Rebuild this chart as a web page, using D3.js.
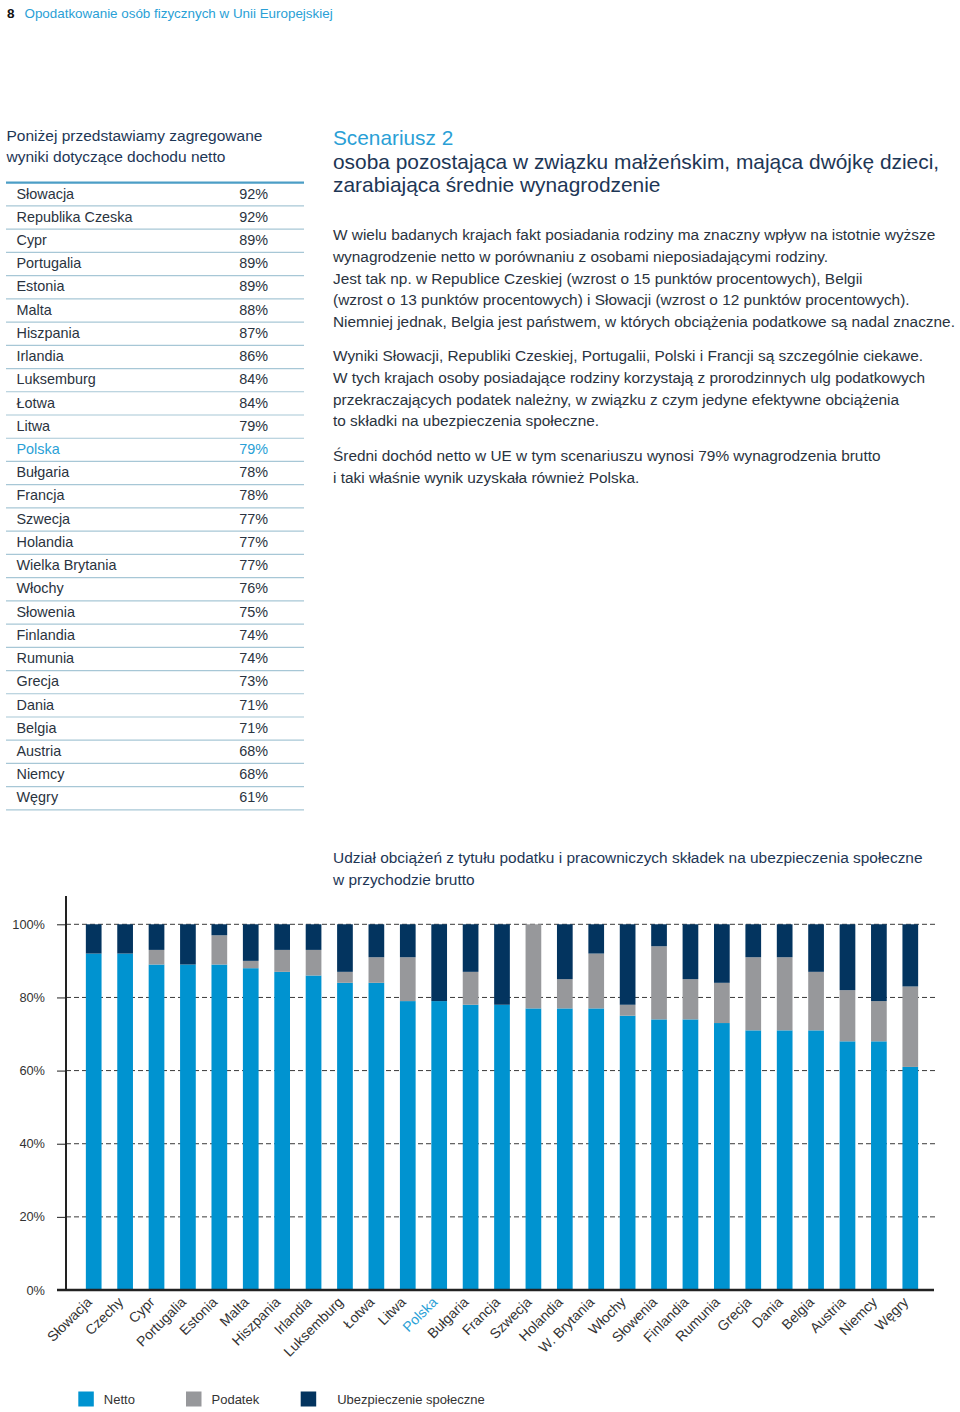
<!DOCTYPE html>
<html><head><meta charset="utf-8">
<script src="https://cdn.jsdelivr.net/npm/d3@7"></script>
<style>
body{margin:0;background:#fff}
svg{display:block;font-family:"Liberation Sans",Arial,Helvetica,sans-serif}
</style>
</head><body><div id="chart"></div>
<script>
// ---------- DATA ----------
const tableCountries = ["Słowacja","Republika Czeska","Cypr","Portugalia","Estonia","Malta","Hiszpania","Irlandia","Luksemburg","Łotwa","Litwa","Polska","Bułgaria","Francja","Szwecja","Holandia","Wielka Brytania","Włochy","Słowenia","Finlandia","Rumunia","Grecja","Dania","Belgia","Austria","Niemcy","Węgry"];
const tableValues = [92,92,89,89,89,88,87,86,84,84,79,79,78,78,77,77,77,76,75,74,74,73,71,71,68,68,61];

const chartCountries = ["Słowacja","Czechy","Cypr","Portugalia","Estonia","Malta","Hiszpania","Irlandia","Luksemburg","Łotwa","Litwa","Polska","Bułgaria","Francja","Szwecja","Holandia","W. Brytania","Włochy","Słowenia","Finlandia","Rumunia","Grecja","Dania","Belgia","Austria","Niemcy","Węgry"];
const netValues    = [92,92,89,89,89,88,87,86,84,84,79,79,78,78,77,77,77,75,74,74,73,71,71,71,68,68,61];
const taxValues    = [0,0,4,0,8,2,6,7,3,7,12,0,9,0,23,8,15,3,20,11,11,20,20,16,14,11,22];
const socialValues = [8,8,7,11,3,10,7,7,13,9,9,21,13,22,0,15,8,22,6,15,16,9,9,13,18,21,17];
const seriesNames  = ["Netto","Podatek","Ubezpieczenie społeczne"];
const yTicks = [0,20,40,60,80,100];
const highlight = "Polska";

const headerNumber = "8";
const headerTitle = "Opodatkowanie osób fizycznych w Unii Europejskiej";
const introLines = ["Poniżej przedstawiamy zagregowane","wyniki dotyczące dochodu netto"];
const scenarioTitle = "Scenariusz 2";
const scenarioSub = ["osoba pozostająca w związku małżeńskim, mająca dwójkę dzieci,","zarabiająca średnie wynagrodzenie"];
const paragraphs = [
 ["W wielu badanych krajach fakt posiadania rodziny ma znaczny wpływ na istotnie wyższe",
  "wynagrodzenie netto w porównaniu z osobami nieposiadającymi rodziny.",
  "Jest tak np. w Republice Czeskiej (wzrost o 15 punktów procentowych), Belgii",
  "(wzrost o 13 punktów procentowych) i Słowacji (wzrost o 12 punktów procentowych).",
  "Niemniej jednak, Belgia jest państwem, w których obciążenia podatkowe są nadal znaczne."],
 ["Wyniki Słowacji, Republiki Czeskiej, Portugalii, Polski i Francji są szczególnie ciekawe.",
  "W tych krajach osoby posiadające rodziny korzystają z prorodzinnych ulg podatkowych",
  "przekraczających podatek należny, w związku z czym jedyne efektywne obciążenia",
  "to składki na ubezpieczenia społeczne."],
 ["Średni dochód netto w UE w tym scenariuszu wynosi 79% wynagrodzenia brutto",
  "i taki właśnie wynik uzyskała również Polska."]
];
const chartTitle = ["Udział obciążeń z tytułu podatku i pracowniczych składek na ubezpieczenia społeczne","w przychodzie brutto"];

// ---------- STYLE ----------
const W = 960, H = 1412;
const C_BLUE = "#0093d0", C_GREY = "#97989b", C_NAVY = "#03345f";
const C_CYAN = "#2a9fd6", C_TEXT = "#2a3340", C_DARKBLUE = "#1d3655";
const colors = [C_BLUE, C_GREY, C_NAVY];

const svg = d3.select("#chart").append("svg").attr("width", W).attr("height", H);

// header
svg.append("text").attr("x", 7).attr("y", 17.5).attr("font-size", 13.5).attr("font-weight", "bold").attr("fill", "#111").text(headerNumber);
svg.append("text").attr("x", 24.5).attr("y", 17.5).attr("font-size", 13.4).attr("fill", C_CYAN).text(headerTitle);

// intro
svg.selectAll(".intro").data(introLines).join("text")
  .attr("x", 6.5).attr("y", (d, i) => 140.7 + i * 21.7)
  .attr("font-size", 15.5).attr("fill", C_DARKBLUE).text(d => d);

// table
const tTop = 182.7, rowH = 23.23, tX0 = 6, tX1 = 304;
const rowY = d3.scaleLinear().domain([0, tableCountries.length]).range([tTop, tTop + rowH * tableCountries.length]);
const table = svg.append("g");
table.selectAll(".rl").data(d3.range(1, tableCountries.length + 1)).join("line")
  .attr("x1", tX0).attr("x2", tX1).attr("y1", d => rowY(d)).attr("y2", d => rowY(d))
  .attr("stroke", "#a7c7d6").attr("stroke-width", 1.2);
table.append("line").attr("x1", tX0).attr("x2", tX1).attr("y1", rowY(0)).attr("y2", rowY(0))
  .attr("stroke", "#4c9ec6").attr("stroke-width", 2.2);
table.selectAll(".tn").data(tableCountries).join("text")
  .attr("x", 16.5).attr("y", (d, i) => rowY(i) + 15.8)
  .attr("font-size", 14.4).attr("fill", d => d === highlight ? C_CYAN : C_TEXT).text(d => d);
table.selectAll(".tv").data(tableValues).join("text")
  .attr("x", 268).attr("y", (d, i) => rowY(i) + 15.8).attr("text-anchor", "end")
  .attr("font-size", 14.4).attr("fill", (d, i) => tableCountries[i] === highlight ? C_CYAN : C_TEXT).text(d => d + "%");

// right column
svg.append("text").attr("x", 333).attr("y", 145).attr("font-size", 20.8).attr("fill", C_CYAN).text(scenarioTitle);
svg.selectAll(".sub").data(scenarioSub).join("text")
  .attr("x", 333).attr("y", (d, i) => 168.5 + i * 23.5).attr("font-size", 20.9).attr("fill", C_DARKBLUE).text(d => d);

const paraStarts = [240, 361, 461];
paragraphs.forEach((lines, pi) => {
  svg.append("g").selectAll("text").data(lines).join("text")
    .attr("x", 333).attr("y", (d, i) => paraStarts[pi] + i * 21.75)
    .attr("font-size", 15.4).attr("fill", C_TEXT).text(d => d);
});

svg.selectAll(".ct").data(chartTitle).join("text")
  .attr("x", 333).attr("y", (d, i) => 863 + i * 21.75)
  .attr("font-size", 15.45).attr("fill", C_DARKBLUE).text(d => d);

// ---------- CHART ----------
const axisX = 66, axisRight = 934;
const y = d3.scaleLinear().domain([0, 100]).range([1290, 924.3]);
const x = d3.scaleBand().domain(chartCountries).range([78, 926]).paddingInner(0.5).paddingOuter(0.25);

// gridlines
const grid = svg.append("g");
grid.selectAll("line").data(yTicks.filter(d => d > 0)).join("line")
  .attr("x1", axisX).attr("x2", axisRight + 2).attr("y1", d => y(d)).attr("y2", d => y(d))
  .attr("stroke", "#3a3a3a").attr("stroke-width", 1).attr("stroke-dasharray", "5,3");

// stacked bars
const rows = chartCountries.map((c, i) => ({ c, Netto: netValues[i], Podatek: taxValues[i], "Ubezpieczenie społeczne": socialValues[i] }));
const stacked = d3.stack().keys(seriesNames)(rows);
svg.append("g").selectAll("g").data(stacked).join("g")
  .attr("fill", (d, i) => colors[i])
  .selectAll("rect").data(d => d).join("rect")
  .attr("x", d => x(d.data.c)).attr("width", x.bandwidth())
  .attr("y", d => y(d[1])).attr("height", d => y(d[0]) - y(d[1]));

// y axis
const yAxis = svg.append("g").attr("transform", `translate(${axisX},0)`)
  .call(d3.axisLeft(y).tickValues(yTicks).tickFormat(d => d + "%").tickSize(9).tickPadding(12));
yAxis.select(".domain").remove();
yAxis.selectAll(".tick line").attr("stroke", "#222").attr("stroke-width", 1);
yAxis.selectAll(".tick text").attr("font-size", 12.8).attr("fill", "#333").attr("font-family", "Liberation Sans, Arial, sans-serif");
svg.append("line").attr("x1", axisX).attr("x2", axisX).attr("y1", 896).attr("y2", 1291)
  .attr("stroke", "#222").attr("stroke-width", 2);
svg.append("line").attr("x1", 57).attr("x2", axisRight).attr("y1", y(0)).attr("y2", y(0))
  .attr("stroke", "#222").attr("stroke-width", 2.4);

// x labels
svg.append("g").selectAll("text").data(chartCountries).join("text")
  .attr("transform", d => `translate(${x(d) + x.bandwidth() / 2 - 1},${1303}) rotate(-45)`)
  .attr("text-anchor", "end").attr("font-size", 14)
  .attr("fill", d => d === highlight ? C_CYAN : "#333").text(d => d);

// legend
const legX = [78.3, 186, 300.7];
const leg = svg.append("g").selectAll("g").data(seriesNames).join("g")
  .attr("transform", (d, i) => `translate(${legX[i]},1391.5)`);
leg.append("rect").attr("width", 15.5).attr("height", 15).attr("fill", (d, i) => colors[i]);
leg.append("text").attr("x", (d, i) => i === 2 ? 36.5 : 25.5).attr("y", 12).attr("font-size", 13)
  .attr("fill", "#333").text(d => d);
</script>
</body></html>
